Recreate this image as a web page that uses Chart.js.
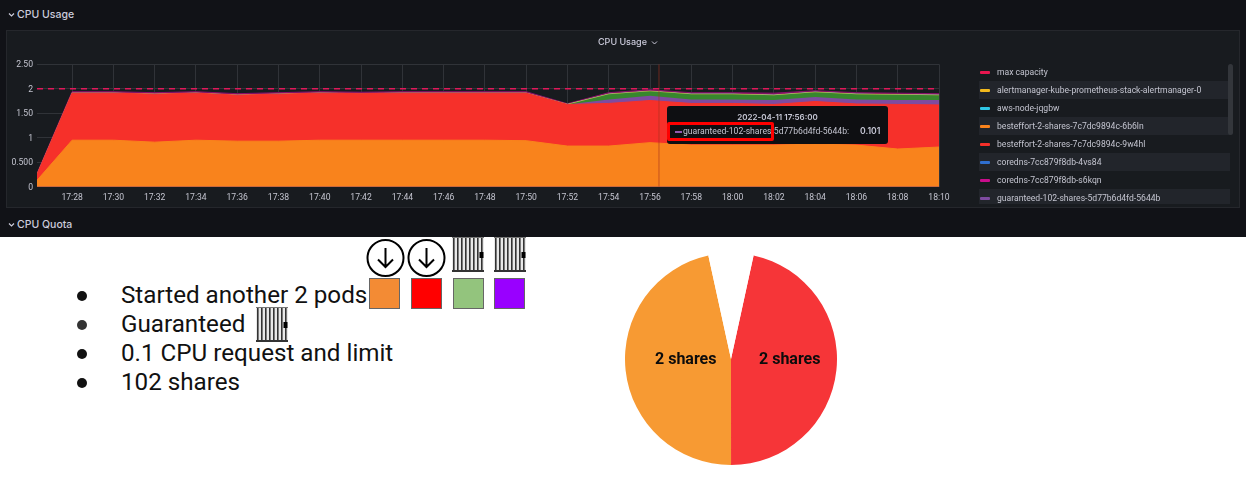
<!DOCTYPE html>
<html>
<head>
<meta charset="utf-8">
<script src="https://cdn.jsdelivr.net/npm/chart.js@4"></script>
<style>
  html, body { margin: 0; padding: 0; background: #fff; width: 1246px; height: 490px; overflow: hidden; }
  div, span, svg, canvas { position: absolute; }
  #dark { left: 0; top: 0; width: 1246px; height: 237px; background: #111217; color: #ccccdc; font-family: Inter, Roboto, sans-serif; }
  .rowTitle { left: 17px; font-size: 10.5px; font-weight: 500; line-height: 14px; white-space: nowrap; }
  #panel { left: 6px; top: 30px; width: 1232px; height: 176px; background: #181b1f; border: 1px solid #25272c; }
  #panelTitle { left: 598px; top: 36px; font-size: 9px; font-weight: 500; line-height: 12px; white-space: nowrap; }
  #usage { left: 6px; top: 30px; }
  .legRow { left: 979px; width: 251px; height: 18px; }
  .legRow i { position: absolute; left: 1px; top: 8px; width: 10px; height: 3px; border-radius: 1px; }
  .legRow span { left: 18px; top: 3px; font-size: 8.6px; line-height: 12px; white-space: nowrap; color: #c4c5d0; font-family: Roboto, sans-serif; }
  #legClip { left: 0; top: 63px; width: 1246px; height: 141px; overflow: hidden; }
  #scroll { left: 1228px; top: 64px; width: 5px; height: 71px; background: #33363b; border-radius: 3px; }
  #tip { left: 667px; top: 106px; width: 221px; height: 38px; background: #0e0f12; border-radius: 3px; }
  #tipTime { left: 0; width: 221px; top: 5px; text-align: center; font-size: 8px; font-weight: 600; line-height: 12px; color: #c7c8d6; }
  #tipSwatch { left: 8px; top: 25px; width: 7px; height: 1.5px; background: #8f5ab0; }
  #tipName { left: 16px; top: 19px; font-size: 8.65px; line-height: 12px; white-space: nowrap; font-family: Roboto, sans-serif; color: #c4c5d0; }
  #tipVal { left: 193px; top: 19px; font-size: 8.6px; font-weight: 600; line-height: 12px; color: #c7c8d6; }
  #tipBox { left: 667px; top: 122px; width: 101px; height: 13px; border: 3px solid #f00; border-radius: 2px; }
  .line { left: 121px; font: 24.2px/29px Roboto, sans-serif; color: #111; white-space: nowrap; }
  .dot { left: 77px; width: 10px; height: 10px; background: #111; border-radius: 50%; }
  .sq { top: 278px; width: 29px; height: 29px; border: 1.5px solid #666; }
  .pieLabel { top: 350px; font: bold 16px/18px Roboto, sans-serif; color: #0c0c0c; white-space: nowrap; }
</style>
</head>
<body>
<div id="dark">
  <svg style="left:8px;top:12px" width="7" height="6"><path d="M1 1.5 L3.5 4 L6 1.5" fill="none" stroke="#ccccdc" stroke-width="1.2"/></svg>
  <div class="rowTitle" style="top:8px">CPU Usage</div>
  <svg style="left:8px;top:222px" width="7" height="6"><path d="M1 1.5 L3.5 4 L6 1.5" fill="none" stroke="#ccccdc" stroke-width="1.2"/></svg>
  <div class="rowTitle" style="top:218px">CPU Quota</div>
  <div id="panel"></div>
  <canvas id="usage" width="960" height="178" style="width:960px;height:178px"></canvas>
  <div id="panelTitle">CPU Usage</div>
  <svg style="left:651px;top:40px" width="7" height="6"><path d="M1 1.5 L3.5 4 L6 1.5" fill="none" stroke="#ccccdc" stroke-width="1"/></svg>
  <div id="legClip"></div>
  <div id="scroll"></div>
  <div id="tip">
    <div id="tipTime"></div>
    <div id="tipSwatch"></div>
    <div id="tipName"></div>
    <div id="tipVal"></div>
  </div>
  <div id="tipBox"></div>
</div>

<svg style="left:365.5px;top:237.5px" width="40" height="40" class="arrow"><circle cx="19.5" cy="20" r="18" fill="#fff" stroke="#000" stroke-width="2"/><path d="M19.5 10 V29 M12 21.5 L19.5 29 L27 21.5" fill="none" stroke="#000" stroke-width="2"/></svg>
<svg style="left:407.2px;top:237.5px" width="40" height="40" class="arrow"><circle cx="19.5" cy="20" r="18" fill="#fff" stroke="#000" stroke-width="2"/><path d="M19.5 10 V29 M12 21.5 L19.5 29 L27 21.5" fill="none" stroke="#000" stroke-width="2"/></svg>
<svg id="bars1" style="left:452px;top:237px" width="33" height="36"></svg>
<svg id="bars2" style="left:494px;top:237px" width="33" height="36"></svg>
<svg id="bars3" style="left:256px;top:307px" width="33" height="36"></svg>
<div class="sq" style="left:369px;background:#f38b34"></div>
<div class="sq" style="left:411px;background:#ff0000"></div>
<div class="sq" style="left:452.5px;background:#93c47d"></div>
<div class="sq" style="left:494px;background:#9900ff"></div>

<div class="dot" style="top:291px"></div>
<div class="dot" style="top:320px;background:#333"></div>
<div class="dot" style="top:349px"></div>
<div class="dot" style="top:378px"></div>
<div class="line" style="top:281px">Started another 2 pods</div>
<div class="line" style="top:310px">Guaranteed</div>
<div class="line" style="top:339px">0.1 CPU request and limit</div>
<div class="line" style="top:368px">102 shares</div>

<canvas id="pie" width="212" height="212" style="left:625px;top:253px;width:212px;height:212px"></canvas>
<div class="pieLabel" style="left:655px">2 shares</div>
<div class="pieLabel" style="left:759px">2 shares</div>

<script>
Chart.defaults.animation = false;
Chart.defaults.font.family = 'Roboto, sans-serif';

var times = ['17:26:18', '17:28', '17:30', '17:32', '17:34', '17:36', '17:38', '17:40', '17:42', '17:44', '17:46', '17:48',
             '17:50', '17:52', '17:54', '17:56', '17:58', '18:00', '18:02', '18:04', '18:06', '18:08', '18:10'];
var y_ticks = [0, 0.5, 1, 1.5, 2, 2.5];
var y_labels = ['0', '0.500', '1', '1.50', '2', '2.50'];

var capacity = [2, 2, 2, 2, 2, 2, 2, 2, 2, 2, 2, 2, 2, 2, 2, 2, 2, 2, 2, 2, 2, 2, 2];
var best_a = [.13, .95, .95, .91, .95, .93, .93, .95, .95, .95, .95, .95, .94, .83, .83, .90, .85, .85, .85, .87, .85, .77, .81];
var best_b = [.12, .96, .96, .98, .96, .94, .96, .96, .95, .96, .96, .96, .97, .85, .87, .86, .85, .85, .83, .87, .84, .91, .86];
var guaranteed_a = [0, 0, 0, 0, 0, 0, 0, 0, 0, 0, 0, 0, 0, 0, .08, .10, .08, .08, .09, .09, .09, .09, .10];
var guaranteed_b = [0, 0, 0, 0, 0, 0, 0, 0, 0, 0, 0, 0, 0, 0, .11, .09, .11, .11, .10, .10, .11, .11, .10];
var alertmanager = [.005, .005, .005, .005, .005, .005, .005, .005, .005, .005, .005, .005, .005, .005, .005, .005, .005, .005, .005, .005, .005, .005, .005];
var aws_node = [.002, .002, .002, .002, .002, .002, .002, .002, .002, .002, .002, .002, .002, .002, .002, .002, .002, .002, .002, .002, .002, .002, .002];
var coredns_a = [.003, .003, .003, .003, .003, .003, .003, .003, .003, .003, .003, .003, .003, .003, .003, .003, .003, .003, .003, .003, .003, .003, .003];
var coredns_b = [.01, .02, .02, .02, .02, .02, .02, .02, .02, .02, .02, .02, .02, .005, .02, .02, .02, .02, .03, .02, .02, .02, .02];

var legend_names = ['max capacity', 'alertmanager-kube-prometheus-stack-alertmanager-0', 'aws-node-jqgbw',
  'besteffort-2-shares-7c7dc9894c-6b6ln', 'besteffort-2-shares-7c7dc9894c-9w4hl', 'coredns-7cc879f8db-4vs84',
  'coredns-7cc879f8db-s6kqn', 'guaranteed-102-shares-5d77b6d4fd-5644b'];
var legend_colors = ['#e8164f', '#f2b91d', '#2fc7e6', '#f9831c', '#f6302a', '#2f6fd0', '#c90d8c', '#7e4ba0'];

var crosshair_time = '17:56:26';
var tooltip_time = '2022-04-11 17:56:00';
var tooltip_name = 'guaranteed-102-shares-5d77b6d4fd-5644b:';
var tooltip_value = '0.101';

var pie_labels = ['2 shares', '2 shares', ''];
var pie_values = [2, 2, 0.294];
var pie_colors = ['#f63538', '#f79a33', '#ffffff'];

function to_minutes(t) {
  var p = t.split(':');
  return +p[0] * 60 + +p[1] + (p[2] ? +p[2] / 60 : 0);
}

function pad(n) {
  return (n < 10 ? '0' : '') + n;
}

function points(values) {
  return values.map(function(v, i) { return {x: to_minutes(times[i]), y: v}; });
}

function area(label, values, color, line) {
  return {
    label: label,
    data: points(values),
    borderColor: color,
    backgroundColor: color,
    borderWidth: line,
    pointRadius: 0,
    fill: true,
    stack: 'pods',
    order: 1
  };
}

var x_min = to_minutes(times[0]);
var x_max = to_minutes(times[times.length - 1]);

new Chart(document.getElementById('usage'), {
  type: 'line',
  data: {
    datasets: [
      area(legend_names[3], best_a, '#f9831c', 1),
      area(legend_names[4], best_b, '#f6302a', 1),
      area(legend_names[7], guaranteed_a, '#7e4ba0', 0),
      area('guaranteed-102-shares-2', guaranteed_b, '#37872d', 0),
      area(legend_names[1], alertmanager, '#eab839', 0.5),
      area(legend_names[2], aws_node, '#37c6e0', 0),
      area(legend_names[5], coredns_a, '#2f6fd0', 0),
      area(legend_names[6], coredns_b, '#8a0f6c', 1),
      {
        label: legend_names[0],
        data: points(capacity),
        borderColor: '#e0185a',
        borderWidth: 1.4,
        borderDash: [6, 5],
        pointRadius: 0,
        fill: false,
        stack: 'capacity',
        order: 0
      },
      {
        label: 'crosshair',
        data: [{x: to_minutes(crosshair_time), y: 0}, {x: to_minutes(crosshair_time), y: 2.5}],
        borderColor: 'rgba(165, 50, 30, 0.6)',
        borderWidth: 1,
        pointRadius: 0,
        fill: false,
        stack: 'crosshair',
        order: 0
      }
    ]
  },
  options: {
    responsive: false,
    layout: {padding: {top: 34.3, right: 27, left: 0, bottom: 0}},
    plugins: {legend: {display: false}, tooltip: {enabled: false}},
    scales: {
      x: {
        type: 'linear',
        min: x_min,
        max: x_max,
        afterFit: function(s) { s.height = 21.3; },
        border: {display: false},
        grid: {color: '#303338', drawTicks: false},
        ticks: {
          stepSize: 2,
          includeBounds: false,
          autoSkip: false,
          maxRotation: 0,
          padding: 6,
          color: '#c4c5d0',
          font: {size: 8.6},
          callback: function(v) { return pad(Math.floor(v / 60)) + ':' + pad(v % 60); }
        }
      },
      y: {
        stacked: true,
        min: 0,
        max: 2.5,
        afterFit: function(s) { s.width = 31; },
        border: {display: false},
        grid: {color: '#303338', drawTicks: false},
        ticks: {
          stepSize: 0.5,
          padding: 4,
          labelOffset: 1,
          color: '#c4c5d0',
          font: {size: 8.6},
          callback: function(v) { return y_labels[y_ticks.indexOf(v)]; }
        }
      }
    }
  }
});

new Chart(document.getElementById('pie'), {
  type: 'pie',
  data: {
    labels: pie_labels,
    datasets: [{data: pie_values, backgroundColor: pie_colors, borderWidth: 0}]
  },
  options: {
    responsive: false,
    rotation: 12.3,
    plugins: {legend: {display: false}, tooltip: {enabled: false}}
  }
});

// legend table on the right of the panel
var clip = document.getElementById('legClip');
legend_names.forEach(function(name, i) {
  var row = document.createElement('div');
  row.className = 'legRow';
  row.style.top = (i * 18) + 'px';
  if (i % 2 == 1) row.style.background = '#22252b';
  row.innerHTML = '<i style="background:' + legend_colors[i] + '"></i><span>' + name + '</span>';
  clip.appendChild(row);
});

document.getElementById('tipTime').textContent = tooltip_time;
document.getElementById('tipName').textContent = tooltip_name;
document.getElementById('tipVal').textContent = tooltip_value;

// the barred door icons
['bars1', 'bars2', 'bars3'].forEach(function(id) {
  var svg = '<rect x="0" y="0" width="32" height="35" fill="#e8e8e8"/>';
  for (var i = 0; i < 8; i++) {
    svg += '<rect x="' + (1 + i * 4) + '" y="0" width="1.6" height="35" fill="#333"/>';
  }
  svg += '<rect x="0" y="0" width="32" height="1" fill="#777"/>';
  svg += '<rect x="0" y="33" width="32" height="2" fill="#333"/>';
  svg += '<rect x="27.5" y="15" width="4" height="6" fill="#000"/>';
  document.getElementById(id).innerHTML = svg;
});
</script>
</body>
</html>
